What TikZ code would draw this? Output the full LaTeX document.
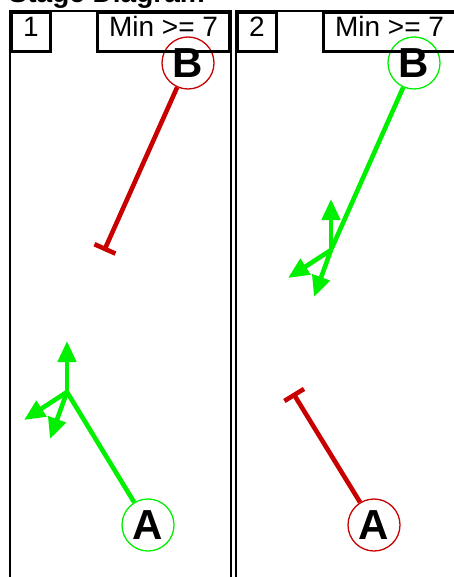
\documentclass[tikz,border=0pt]{standalone}
\usepackage{fontspec}
\setmainfont{Liberation Sans}
\usetikzlibrary{positioning, arrows.meta, calc}

\definecolor{okgreen}{RGB}{0,240,0}
\definecolor{blockred}{RGB}{200,0,0}

\begin{document}
\begin{tikzpicture}[
  x=1pt, y=-1pt,
  frame/.style={draw=black, line width=2.8pt},
  tag/.style={
    rectangle, draw=black, line width=2.8pt,
    anchor=north west, minimum height=39pt, inner sep=0pt,
    text height=20pt, text depth=11pt,
    font=\fontsize{28}{30}\selectfont,
  },
  site/.style={
    circle, draw=#1, line width=1.3pt,
    minimum size=52pt, inner sep=0pt,
    font=\fontsize{42}{44}\selectfont\bfseries,
  },
  pass/.style={okgreen, line width=4.6pt},
  push/.style={pass, -{Triangle[length=21pt, width=18pt]}},
  block/.style={blockred, line width=4.6pt, -{Bar[width=23pt]}},
]
\useasboundingbox (0,0) rectangle (454,577);

\node[anchor=base west, inner sep=0pt, font=\fontsize{28}{30}\selectfont\bfseries]
  (title) at (8.5,3) {Stage Diagram};

% stage 1: A passes, B is blocked
\node[site=okgreen]  (a1) at (148,525) {A};
\node[site=blockred] (b1) at (188,63)  {B};
\coordinate (j1) at (67,392);
\coordinate (stop1) at (104,251);

\draw[pass]  (a1) -- (j1);
\draw[block] (b1) -- (stop1);

% stage 2: A is blocked, B passes
\node[site=blockred] (a2) at (374,525) {A};
\node[site=okgreen]  (b2) at (414,63)  {B};
\coordinate (j2) at (331,250);
\coordinate (stop2) at (293,393);

\draw[pass]  (b2) -- (j2);
\draw[block] (a2) -- (stop2);

% three-way spread at each junction
\foreach \j in {j1, j2} {
  \coordinate (\j up)   at ($(\j)+(0,-51)$);
  \coordinate (\j left) at ($(\j)+(-43,28)$);
  \coordinate (\j down) at ($(\j)+(-17,47)$);
  \draw[push] (\j) -- (\j up);
  \draw[push] (\j) -- (\j left);
  \draw[push] (\j) -- (\j down);
}

% panel frames, open at the bottom
\draw[frame] (10,590)  |- (231,11) -- (231,590);
\draw[frame] (236,590) |- (457,11) -- (457,590);

\node[tag, minimum width=39pt]                    (num1) at (10,11)  {1};
\node[tag, minimum width=132pt, anchor=north east] (min1) at (231,11) {Min >= 7};
\node[tag, minimum width=39pt]                    (num2) at (236,11) {2};
\node[tag, minimum width=132pt, anchor=north east] (min2) at (457,11) {Min >= 7};
\end{tikzpicture}
\end{document}
